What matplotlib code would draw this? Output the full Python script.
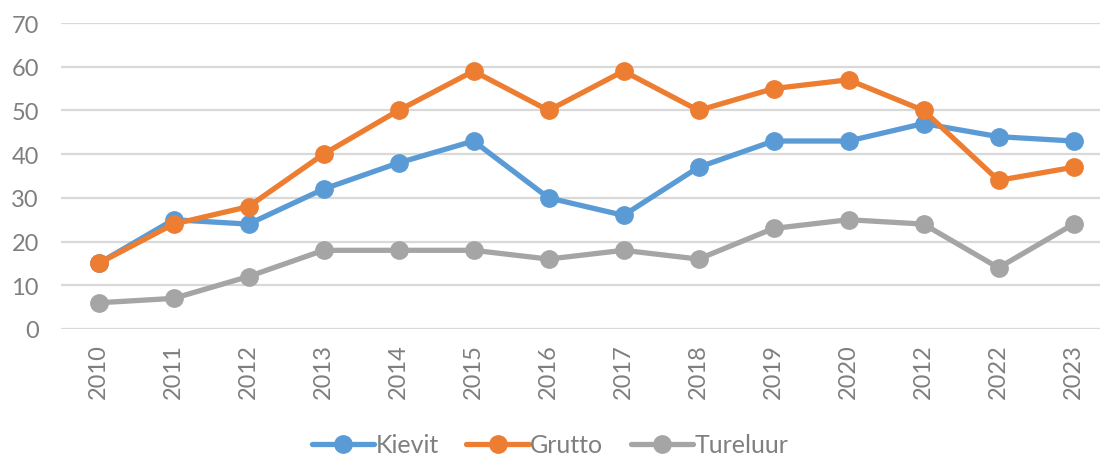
import matplotlib
matplotlib.use("Agg")
import matplotlib.pyplot as plt

years = ["2010", "2011", "2012", "2013", "2014", "2015", "2016", "2017",
         "2018", "2019", "2020", "2012", "2022", "2023"]
kievit = [15, 25, 24, 32, 38, 43, 30, 26, 37, 43, 43, 47, 44, 43]
grutto = [15, 24, 28, 40, 50, 59, 50, 59, 50, 55, 57, 50, 34, 37]
tureluur = [6, 7, 12, 18, 18, 18, 16, 18, 16, 23, 25, 24, 14, 24]

plt.rcParams['font.family'] = ['Lato', 'DejaVu Sans']
txt = '#7f7f7f'

fig = plt.figure(figsize=(11, 4.56), dpi=100)
ax = fig.add_axes([61/1100, 1 - 330/456, 1039/1100, (330 - 24)/456])

x = list(range(len(years)))
series = [("Kievit", kievit, "#5B9BD5"), ("Grutto", grutto, "#ED7D31"),
          ("Tureluur", tureluur, "#A5A5A5")]
for name, vals, c in series:
    ax.plot(x, vals, color=c, lw=3.8, marker='o', ms=12.5, label=name,
            solid_capstyle='round', clip_on=False, zorder=3)

ax.set_ylim(0, 70)
ax.set_yticks(range(0, 71, 10))
ax.set_xlim(-0.5, -0.5 + 1039/75)
ax.set_xticks(x)
ax.set_xticklabels(years, rotation=90)
ax.grid(axis='y', color='#d9d9d9', lw=1.6)
ax.set_axisbelow(True)
for s in ax.spines.values():
    s.set_visible(False)
ax.tick_params(axis='both', length=0, labelsize=17, colors=txt)
ax.tick_params(axis='y', pad=16)
ax.tick_params(axis='x', pad=10)

leg = fig.legend(loc='center', bbox_to_anchor=(0.5, 1 - 446/456), ncol=3,
                 frameon=False, fontsize=18, handlelength=2.5, handletextpad=0.05,
                 columnspacing=1.1, borderpad=0)
for t in leg.get_texts():
    t.set_color(txt)

fig.savefig("out.png", dpi=100)
